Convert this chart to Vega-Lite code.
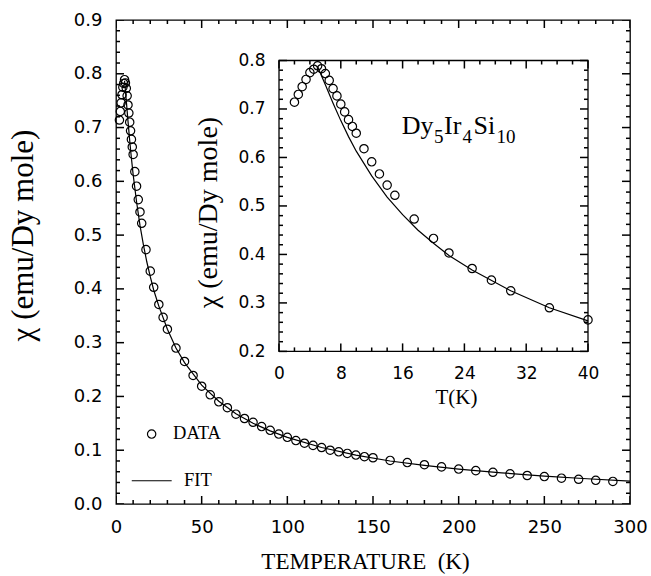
{
  "$schema": "https://vega.github.io/schema/vega-lite/v6.json",
  "width": 514,
  "height": 484,
  "autosize": "none",
  "padding": {"left": 116, "top": 20, "right": 21, "bottom": 72},
  "background": "white",
  "config": {
    "view": {"stroke": "black", "strokeWidth": 1.3},
    "axis": {"grid": false, "ticks": false, "tickSize": 0, "domain": false, "labelColor": "black", "titleColor": "black", "labelFlush": false, "labelOverlap": false, "titleFontWeight": "normal"}
  },
  "datasets": {
    "data": [
      {"T": 2, "chi": 0.714}, {"T": 2.5, "chi": 0.730}, {"T": 3, "chi": 0.746}, {"T": 3.5, "chi": 0.761},
      {"T": 4, "chi": 0.775}, {"T": 4.5, "chi": 0.782}, {"T": 5, "chi": 0.789}, {"T": 5.5, "chi": 0.783},
      {"T": 6, "chi": 0.773}, {"T": 6.5, "chi": 0.759}, {"T": 7, "chi": 0.742}, {"T": 7.5, "chi": 0.727},
      {"T": 8, "chi": 0.710}, {"T": 8.5, "chi": 0.694}, {"T": 9, "chi": 0.678}, {"T": 9.5, "chi": 0.664},
      {"T": 10, "chi": 0.650}, {"T": 11, "chi": 0.618}, {"T": 12, "chi": 0.591}, {"T": 13, "chi": 0.566},
      {"T": 14, "chi": 0.543}, {"T": 15, "chi": 0.522}, {"T": 17.5, "chi": 0.473}, {"T": 20, "chi": 0.433},
      {"T": 22, "chi": 0.403}, {"T": 25, "chi": 0.371}, {"T": 27.5, "chi": 0.347}, {"T": 30, "chi": 0.325},
      {"T": 35, "chi": 0.290}, {"T": 40, "chi": 0.265}, {"T": 45, "chi": 0.239}, {"T": 50, "chi": 0.219},
      {"T": 55, "chi": 0.203}, {"T": 60, "chi": 0.190}, {"T": 65, "chi": 0.179}, {"T": 70, "chi": 0.167},
      {"T": 75, "chi": 0.159}, {"T": 80, "chi": 0.152}, {"T": 85, "chi": 0.144}, {"T": 90, "chi": 0.137},
      {"T": 95, "chi": 0.130}, {"T": 100, "chi": 0.124}, {"T": 105, "chi": 0.118}, {"T": 110, "chi": 0.113},
      {"T": 115, "chi": 0.109}, {"T": 120, "chi": 0.105}, {"T": 125, "chi": 0.100}, {"T": 130, "chi": 0.097},
      {"T": 135, "chi": 0.094}, {"T": 140, "chi": 0.091}, {"T": 145, "chi": 0.088}, {"T": 150, "chi": 0.086},
      {"T": 160, "chi": 0.081}, {"T": 170, "chi": 0.077}, {"T": 180, "chi": 0.073}, {"T": 190, "chi": 0.069},
      {"T": 200, "chi": 0.065}, {"T": 210, "chi": 0.062}, {"T": 220, "chi": 0.059}, {"T": 230, "chi": 0.056},
      {"T": 240, "chi": 0.053}, {"T": 250, "chi": 0.051}, {"T": 260, "chi": 0.048}, {"T": 270, "chi": 0.046},
      {"T": 280, "chi": 0.044}, {"T": 290, "chi": 0.042}
    ],
    "fit": [
      {"T": 5, "chi": 0.787}, {"T": 6, "chi": 0.750}, {"T": 7, "chi": 0.712}, {"T": 8, "chi": 0.676},
      {"T": 9, "chi": 0.643}, {"T": 10, "chi": 0.613}, {"T": 12, "chi": 0.562}, {"T": 14, "chi": 0.518},
      {"T": 16, "chi": 0.482}, {"T": 18, "chi": 0.450}, {"T": 20, "chi": 0.423}, {"T": 22, "chi": 0.398},
      {"T": 25, "chi": 0.368}, {"T": 30, "chi": 0.325}, {"T": 35, "chi": 0.290}, {"T": 40, "chi": 0.263},
      {"T": 50, "chi": 0.221}, {"T": 60, "chi": 0.191}, {"T": 70, "chi": 0.168}, {"T": 80, "chi": 0.150},
      {"T": 90, "chi": 0.136}, {"T": 100, "chi": 0.124}, {"T": 120, "chi": 0.105}, {"T": 140, "chi": 0.091},
      {"T": 160, "chi": 0.080}, {"T": 180, "chi": 0.072}, {"T": 200, "chi": 0.065}, {"T": 225, "chi": 0.058},
      {"T": 250, "chi": 0.052}, {"T": 275, "chi": 0.047}, {"T": 300, "chi": 0.0425}
    ],
    "mainXTicks": [
      {"v": 0, "kind": "major"}, {"v": 10, "kind": "minor"}, {"v": 20, "kind": "minor"}, {"v": 30, "kind": "minor"}, {"v": 40, "kind": "minor"},
      {"v": 50, "kind": "major"}, {"v": 60, "kind": "minor"}, {"v": 70, "kind": "minor"}, {"v": 80, "kind": "minor"}, {"v": 90, "kind": "minor"},
      {"v": 100, "kind": "major"}, {"v": 110, "kind": "minor"}, {"v": 120, "kind": "minor"}, {"v": 130, "kind": "minor"}, {"v": 140, "kind": "minor"},
      {"v": 150, "kind": "major"}, {"v": 160, "kind": "minor"}, {"v": 170, "kind": "minor"}, {"v": 180, "kind": "minor"}, {"v": 190, "kind": "minor"},
      {"v": 200, "kind": "major"}, {"v": 210, "kind": "minor"}, {"v": 220, "kind": "minor"}, {"v": 230, "kind": "minor"}, {"v": 240, "kind": "minor"},
      {"v": 250, "kind": "major"}, {"v": 260, "kind": "minor"}, {"v": 270, "kind": "minor"}, {"v": 280, "kind": "minor"}, {"v": 290, "kind": "minor"},
      {"v": 300, "kind": "major"}
    ],
    "mainYTicks": [
      {"v": 0, "kind": "major"}, {"v": 0.02, "kind": "minor"}, {"v": 0.04, "kind": "minor"}, {"v": 0.06, "kind": "minor"}, {"v": 0.08, "kind": "minor"},
      {"v": 0.1, "kind": "major"}, {"v": 0.12, "kind": "minor"}, {"v": 0.14, "kind": "minor"}, {"v": 0.16, "kind": "minor"}, {"v": 0.18, "kind": "minor"},
      {"v": 0.2, "kind": "major"}, {"v": 0.22, "kind": "minor"}, {"v": 0.24, "kind": "minor"}, {"v": 0.26, "kind": "minor"}, {"v": 0.28, "kind": "minor"},
      {"v": 0.3, "kind": "major"}, {"v": 0.32, "kind": "minor"}, {"v": 0.34, "kind": "minor"}, {"v": 0.36, "kind": "minor"}, {"v": 0.38, "kind": "minor"},
      {"v": 0.4, "kind": "major"}, {"v": 0.42, "kind": "minor"}, {"v": 0.44, "kind": "minor"}, {"v": 0.46, "kind": "minor"}, {"v": 0.48, "kind": "minor"},
      {"v": 0.5, "kind": "major"}, {"v": 0.52, "kind": "minor"}, {"v": 0.54, "kind": "minor"}, {"v": 0.56, "kind": "minor"}, {"v": 0.58, "kind": "minor"},
      {"v": 0.6, "kind": "major"}, {"v": 0.62, "kind": "minor"}, {"v": 0.64, "kind": "minor"}, {"v": 0.66, "kind": "minor"}, {"v": 0.68, "kind": "minor"},
      {"v": 0.7, "kind": "major"}, {"v": 0.72, "kind": "minor"}, {"v": 0.74, "kind": "minor"}, {"v": 0.76, "kind": "minor"}, {"v": 0.78, "kind": "minor"},
      {"v": 0.8, "kind": "major"}, {"v": 0.82, "kind": "minor"}, {"v": 0.84, "kind": "minor"}, {"v": 0.86, "kind": "minor"}, {"v": 0.88, "kind": "minor"},
      {"v": 0.9, "kind": "major"}
    ],
    "insetXTicks": [
      {"v": 0, "kind": "major"}, {"v": 2, "kind": "minor"}, {"v": 4, "kind": "minor"}, {"v": 6, "kind": "minor"},
      {"v": 8, "kind": "major"}, {"v": 10, "kind": "minor"}, {"v": 12, "kind": "minor"}, {"v": 14, "kind": "minor"},
      {"v": 16, "kind": "major"}, {"v": 18, "kind": "minor"}, {"v": 20, "kind": "minor"}, {"v": 22, "kind": "minor"},
      {"v": 24, "kind": "major"}, {"v": 26, "kind": "minor"}, {"v": 28, "kind": "minor"}, {"v": 30, "kind": "minor"},
      {"v": 32, "kind": "major"}, {"v": 34, "kind": "minor"}, {"v": 36, "kind": "minor"}, {"v": 38, "kind": "minor"},
      {"v": 40, "kind": "major"}
    ],
    "insetYTicks": [
      {"v": 0.2, "kind": "major"}, {"v": 0.22, "kind": "minor"}, {"v": 0.24, "kind": "minor"}, {"v": 0.26, "kind": "minor"}, {"v": 0.28, "kind": "minor"},
      {"v": 0.3, "kind": "major"}, {"v": 0.32, "kind": "minor"}, {"v": 0.34, "kind": "minor"}, {"v": 0.36, "kind": "minor"}, {"v": 0.38, "kind": "minor"},
      {"v": 0.4, "kind": "major"}, {"v": 0.42, "kind": "minor"}, {"v": 0.44, "kind": "minor"}, {"v": 0.46, "kind": "minor"}, {"v": 0.48, "kind": "minor"},
      {"v": 0.5, "kind": "major"}, {"v": 0.52, "kind": "minor"}, {"v": 0.54, "kind": "minor"}, {"v": 0.56, "kind": "minor"}, {"v": 0.58, "kind": "minor"},
      {"v": 0.6, "kind": "major"}, {"v": 0.62, "kind": "minor"}, {"v": 0.64, "kind": "minor"}, {"v": 0.66, "kind": "minor"}, {"v": 0.68, "kind": "minor"},
      {"v": 0.7, "kind": "major"}, {"v": 0.72, "kind": "minor"}, {"v": 0.74, "kind": "minor"}, {"v": 0.76, "kind": "minor"}, {"v": 0.78, "kind": "minor"},
      {"v": 0.8, "kind": "major"}
    ],
    "legend": [{"label": "DATA"}, {"label": "FIT"}],
    "compound": [{"name": "Dy5Ir4Si10"}]
  },
  "resolve": {"scale": {"x": "independent", "y": "independent"}, "axis": {"x": "independent", "y": "independent"}},
  "layer": [
    {
      "data": {"name": "data"},
      "mark": {"type": "point", "filled": false, "stroke": "black", "strokeWidth": 1.2, "size": 70, "opacity": 1},
      "encoding": {
        "x": {"field": "T", "type": "quantitative", "scale": {"domain": [0, 300], "nice": false, "zero": false},
          "axis": {"orient": "bottom", "values": [0, 50, 100, 150, 200, 250, 300],
            "labelPadding": 14, "labelFont": "DejaVu Sans", "labelFontSize": 18,
            "title": "TEMPERATURE\u00a0\u00a0(K)", "titleFont": "Liberation Serif", "titleFontSize": 23,
            "titleX": 249, "titleY": 64, "titleBaseline": "alphabetic", "titleAlign": "center"}},
        "y": {"field": "chi", "type": "quantitative", "scale": {"domain": [0, 0.9], "nice": false, "zero": false},
          "axis": {"orient": "left", "values": [0, 0.1, 0.2, 0.3, 0.4, 0.5, 0.6, 0.7, 0.8, 0.9], "format": ".1f",
            "labelPadding": 14, "labelFont": "DejaVu Sans", "labelFontSize": 18,
            "title": "χ (emu/Dy mole)", "titleFont": "Liberation Serif", "titleFontSize": 31,
            "titleX": -84, "titleY": 215, "titleAngle": -90, "titleBaseline": "alphabetic", "titleAlign": "center"}}
      }
    },
    {
      "data": {"name": "fit"},
      "mark": {"type": "line", "color": "black", "strokeWidth": 1.2},
      "encoding": {
        "x": {"field": "T", "type": "quantitative", "scale": {"domain": [0, 300], "nice": false, "zero": false}, "axis": null},
        "y": {"field": "chi", "type": "quantitative", "scale": {"domain": [0, 0.9], "nice": false, "zero": false}, "axis": null}
      }
    },
    {
      "data": {"name": "mainXTicks"},
      "mark": {"type": "tick", "orient": "vertical", "thickness": 1.5, "color": "black", "opacity": 1, "clip": true},
      "encoding": {
        "x": {"field": "v", "type": "quantitative", "scale": {"domain": [0, 300], "nice": false, "zero": false}, "axis": null},
        "y": {"datum": 0, "type": "quantitative", "scale": {"domain": [0, 0.9], "nice": false, "zero": false}, "axis": null},
        "size": {"field": "kind", "type": "ordinal", "scale": {"domain": ["major", "minor"], "range": [16, 8]}, "legend": null}
      }
    },
    {
      "data": {"name": "mainXTicks"},
      "mark": {"type": "tick", "orient": "vertical", "thickness": 1.5, "color": "black", "opacity": 1, "clip": true},
      "encoding": {
        "x": {"field": "v", "type": "quantitative", "scale": {"domain": [0, 300], "nice": false, "zero": false}, "axis": null},
        "y": {"datum": 0.9, "type": "quantitative", "scale": {"domain": [0, 0.9], "nice": false, "zero": false}, "axis": null},
        "size": {"field": "kind", "type": "ordinal", "scale": {"domain": ["major", "minor"], "range": [16, 8]}, "legend": null}
      }
    },
    {
      "data": {"name": "mainYTicks"},
      "mark": {"type": "tick", "orient": "horizontal", "thickness": 1.5, "color": "black", "opacity": 1, "clip": true},
      "encoding": {
        "y": {"field": "v", "type": "quantitative", "scale": {"domain": [0, 0.9], "nice": false, "zero": false}, "axis": null},
        "x": {"datum": 0, "type": "quantitative", "scale": {"domain": [0, 300], "nice": false, "zero": false}, "axis": null},
        "size": {"field": "kind", "type": "ordinal", "scale": {"domain": ["major", "minor"], "range": [16, 8]}, "legend": null}
      }
    },
    {
      "data": {"name": "mainYTicks"},
      "mark": {"type": "tick", "orient": "horizontal", "thickness": 1.5, "color": "black", "opacity": 1, "clip": true},
      "encoding": {
        "y": {"field": "v", "type": "quantitative", "scale": {"domain": [0, 0.9], "nice": false, "zero": false}, "axis": null},
        "x": {"datum": 300, "type": "quantitative", "scale": {"domain": [0, 300], "nice": false, "zero": false}, "axis": null},
        "size": {"field": "kind", "type": "ordinal", "scale": {"domain": ["major", "minor"], "range": [16, 8]}, "legend": null}
      }
    },
    {
      "data": {"name": "legend"},
      "transform": [{"filter": "datum.label === 'DATA'"}],
      "mark": {"type": "point", "filled": false, "stroke": "black", "strokeWidth": 1.2, "size": 70, "opacity": 1},
      "encoding": {
        "x": {"datum": 20.8, "type": "quantitative", "scale": {"domain": [0, 300], "nice": false, "zero": false}, "axis": null},
        "y": {"datum": 0.130, "type": "quantitative", "scale": {"domain": [0, 0.9], "nice": false, "zero": false}, "axis": null}
      }
    },
    {
      "data": {"name": "legend"},
      "transform": [{"filter": "datum.label === 'FIT'"}],
      "mark": {"type": "rule", "color": "black", "strokeWidth": 1.2},
      "encoding": {
        "x": {"datum": 9.2, "type": "quantitative", "scale": {"domain": [0, 300], "nice": false, "zero": false}, "axis": null},
        "x2": {"datum": 32.5},
        "y": {"datum": 0.0432, "type": "quantitative", "scale": {"domain": [0, 0.9], "nice": false, "zero": false}, "axis": null}
      }
    },
    {
      "data": {"name": "legend"},
      "transform": [{"filter": "datum.label === 'DATA'"}],
      "mark": {"type": "text", "font": "Liberation Serif", "fontSize": 18.5, "align": "left", "baseline": "alphabetic", "color": "black"},
      "encoding": {
        "text": {"field": "label"},
        "x": {"datum": 33.3, "type": "quantitative", "scale": {"domain": [0, 300], "nice": false, "zero": false}, "axis": null},
        "y": {"datum": 0.120, "type": "quantitative", "scale": {"domain": [0, 0.9], "nice": false, "zero": false}, "axis": null}
      }
    },
    {
      "data": {"name": "legend"},
      "transform": [{"filter": "datum.label === 'FIT'"}],
      "mark": {"type": "text", "font": "Liberation Serif", "fontSize": 18.5, "align": "left", "baseline": "alphabetic", "color": "black"},
      "encoding": {
        "text": {"field": "label"},
        "x": {"datum": 39.7, "type": "quantitative", "scale": {"domain": [0, 300], "nice": false, "zero": false}, "axis": null},
        "y": {"datum": 0.033, "type": "quantitative", "scale": {"domain": [0, 0.9], "nice": false, "zero": false}, "axis": null}
      }
    },
    {
      "data": {"name": "compound"},
      "mark": {"type": "rect", "fill": "white", "stroke": "black", "strokeWidth": 1.3},
      "encoding": {
        "x": {"datum": 0, "type": "quantitative", "scale": {"domain": [0, 40], "range": [163, 472], "nice": false, "zero": false}, "axis": null},
        "x2": {"datum": 40},
        "y": {"datum": 0.2, "type": "quantitative", "scale": {"domain": [0.2, 0.8], "range": [331.4, 40.5], "nice": false, "zero": false}, "axis": null},
        "y2": {"datum": 0.8}
      }
    },
    {
      "data": {"name": "insetXTicks"},
      "transform": [{"filter": "datum.kind === 'major'"}],
      "mark": {"type": "tick", "orient": "vertical", "thickness": 1.5, "size": 8, "yOffset": -4, "color": "black", "opacity": 1},
      "encoding": {
        "x": {"field": "v", "type": "quantitative", "scale": {"domain": [0, 40], "range": [163, 472], "nice": false, "zero": false}, "axis": null},
        "y": {"datum": 0.2, "type": "quantitative", "scale": {"domain": [0.2, 0.8], "range": [331.4, 40.5], "nice": false, "zero": false}, "axis": null}
      }
    },
    {
      "data": {"name": "insetXTicks"},
      "transform": [{"filter": "datum.kind === 'minor'"}],
      "mark": {"type": "tick", "orient": "vertical", "thickness": 1.5, "size": 4, "yOffset": -2, "color": "black", "opacity": 1},
      "encoding": {
        "x": {"field": "v", "type": "quantitative", "scale": {"domain": [0, 40], "range": [163, 472], "nice": false, "zero": false}, "axis": null},
        "y": {"datum": 0.2, "type": "quantitative", "scale": {"domain": [0.2, 0.8], "range": [331.4, 40.5], "nice": false, "zero": false}, "axis": null}
      }
    },
    {
      "data": {"name": "insetXTicks"},
      "transform": [{"filter": "datum.kind === 'major'"}],
      "mark": {"type": "tick", "orient": "vertical", "thickness": 1.5, "size": 8, "yOffset": 4, "color": "black", "opacity": 1},
      "encoding": {
        "x": {"field": "v", "type": "quantitative", "scale": {"domain": [0, 40], "range": [163, 472], "nice": false, "zero": false}, "axis": null},
        "y": {"datum": 0.8, "type": "quantitative", "scale": {"domain": [0.2, 0.8], "range": [331.4, 40.5], "nice": false, "zero": false}, "axis": null}
      }
    },
    {
      "data": {"name": "insetXTicks"},
      "transform": [{"filter": "datum.kind === 'minor'"}],
      "mark": {"type": "tick", "orient": "vertical", "thickness": 1.5, "size": 4, "yOffset": 2, "color": "black", "opacity": 1},
      "encoding": {
        "x": {"field": "v", "type": "quantitative", "scale": {"domain": [0, 40], "range": [163, 472], "nice": false, "zero": false}, "axis": null},
        "y": {"datum": 0.8, "type": "quantitative", "scale": {"domain": [0.2, 0.8], "range": [331.4, 40.5], "nice": false, "zero": false}, "axis": null}
      }
    },
    {
      "data": {"name": "insetYTicks"},
      "transform": [{"filter": "datum.kind === 'major'"}],
      "mark": {"type": "tick", "orient": "horizontal", "thickness": 1.5, "size": 8, "xOffset": 4, "color": "black", "opacity": 1},
      "encoding": {
        "y": {"field": "v", "type": "quantitative", "scale": {"domain": [0.2, 0.8], "range": [331.4, 40.5], "nice": false, "zero": false}, "axis": null},
        "x": {"datum": 0, "type": "quantitative", "scale": {"domain": [0, 40], "range": [163, 472], "nice": false, "zero": false}, "axis": null}
      }
    },
    {
      "data": {"name": "insetYTicks"},
      "transform": [{"filter": "datum.kind === 'minor'"}],
      "mark": {"type": "tick", "orient": "horizontal", "thickness": 1.5, "size": 4, "xOffset": 2, "color": "black", "opacity": 1},
      "encoding": {
        "y": {"field": "v", "type": "quantitative", "scale": {"domain": [0.2, 0.8], "range": [331.4, 40.5], "nice": false, "zero": false}, "axis": null},
        "x": {"datum": 0, "type": "quantitative", "scale": {"domain": [0, 40], "range": [163, 472], "nice": false, "zero": false}, "axis": null}
      }
    },
    {
      "data": {"name": "insetYTicks"},
      "transform": [{"filter": "datum.kind === 'major'"}],
      "mark": {"type": "tick", "orient": "horizontal", "thickness": 1.5, "size": 8, "xOffset": -4, "color": "black", "opacity": 1},
      "encoding": {
        "y": {"field": "v", "type": "quantitative", "scale": {"domain": [0.2, 0.8], "range": [331.4, 40.5], "nice": false, "zero": false}, "axis": null},
        "x": {"datum": 40, "type": "quantitative", "scale": {"domain": [0, 40], "range": [163, 472], "nice": false, "zero": false}, "axis": null}
      }
    },
    {
      "data": {"name": "insetYTicks"},
      "transform": [{"filter": "datum.kind === 'minor'"}],
      "mark": {"type": "tick", "orient": "horizontal", "thickness": 1.5, "size": 4, "xOffset": -2, "color": "black", "opacity": 1},
      "encoding": {
        "y": {"field": "v", "type": "quantitative", "scale": {"domain": [0.2, 0.8], "range": [331.4, 40.5], "nice": false, "zero": false}, "axis": null},
        "x": {"datum": 40, "type": "quantitative", "scale": {"domain": [0, 40], "range": [163, 472], "nice": false, "zero": false}, "axis": null}
      }
    },
    {
      "data": {"name": "data"},
      "transform": [{"filter": "datum.T <= 40"}],
      "mark": {"type": "point", "filled": false, "stroke": "black", "strokeWidth": 1.2, "size": 70, "opacity": 1},
      "encoding": {
        "x": {"field": "T", "type": "quantitative", "scale": {"domain": [0, 40], "range": [163, 472], "nice": false, "zero": false},
          "axis": {"orient": "bottom", "offset": -153, "values": [0, 8, 16, 24, 32, 40],
            "labelPadding": 14, "labelFont": "DejaVu Sans", "labelFontSize": 17,
            "title": "T(K)", "titleFont": "Liberation Serif", "titleFontSize": 21,
            "titleX": 340, "titleY": 52, "titleBaseline": "alphabetic", "titleAlign": "center"}},
        "y": {"field": "chi", "type": "quantitative", "scale": {"domain": [0.2, 0.8], "range": [331.4, 40.5], "nice": false, "zero": false},
          "axis": {"orient": "left", "offset": -163, "values": [0.2, 0.3, 0.4, 0.5, 0.6, 0.7, 0.8], "format": ".1f",
            "labelPadding": 14, "labelFont": "DejaVu Sans", "labelFontSize": 17,
            "title": "χ (emu/Dy mole)", "titleFont": "Liberation Serif", "titleFontSize": 28,
            "titleX": -63, "titleY": 192, "titleAngle": -90, "titleBaseline": "alphabetic", "titleAlign": "center"}}
      }
    },
    {
      "data": {"name": "fit"},
      "transform": [{"filter": "datum.T <= 40"}],
      "mark": {"type": "line", "color": "black", "strokeWidth": 1.2},
      "encoding": {
        "x": {"field": "T", "type": "quantitative", "scale": {"domain": [0, 40], "range": [163, 472], "nice": false, "zero": false}, "axis": null},
        "y": {"field": "chi", "type": "quantitative", "scale": {"domain": [0.2, 0.8], "range": [331.4, 40.5], "nice": false, "zero": false}, "axis": null}
      }
    },
    {
      "data": {"name": "compound"},
      "mark": {"type": "text", "text": "Dy", "font": "Liberation Serif", "fontSize": 26, "align": "left", "baseline": "alphabetic", "color": "black"},
      "encoding": {
        "x": {"datum": 15.88, "type": "quantitative", "scale": {"domain": [0, 40], "range": [163, 472], "nice": false, "zero": false}, "axis": null},
        "y": {"datum": 0.6485, "type": "quantitative", "scale": {"domain": [0.2, 0.8], "range": [331.4, 40.5], "nice": false, "zero": false}, "axis": null}
      }
    },
    {
      "data": {"name": "compound"},
      "mark": {"type": "text", "text": "5", "font": "Liberation Serif", "fontSize": 19, "align": "left", "baseline": "alphabetic", "color": "black"},
      "encoding": {
        "x": {"datum": 20.06, "type": "quantitative", "scale": {"domain": [0, 40], "range": [163, 472], "nice": false, "zero": false}, "axis": null},
        "y": {"datum": 0.6293, "type": "quantitative", "scale": {"domain": [0.2, 0.8], "range": [331.4, 40.5], "nice": false, "zero": false}, "axis": null}
      }
    },
    {
      "data": {"name": "compound"},
      "mark": {"type": "text", "text": "Ir", "font": "Liberation Serif", "fontSize": 26, "align": "left", "baseline": "alphabetic", "color": "black"},
      "encoding": {
        "x": {"datum": 21.36, "type": "quantitative", "scale": {"domain": [0, 40], "range": [163, 472], "nice": false, "zero": false}, "axis": null},
        "y": {"datum": 0.6485, "type": "quantitative", "scale": {"domain": [0.2, 0.8], "range": [331.4, 40.5], "nice": false, "zero": false}, "axis": null}
      }
    },
    {
      "data": {"name": "compound"},
      "mark": {"type": "text", "text": "4", "font": "Liberation Serif", "fontSize": 19, "align": "left", "baseline": "alphabetic", "color": "black"},
      "encoding": {
        "x": {"datum": 23.75, "type": "quantitative", "scale": {"domain": [0, 40], "range": [163, 472], "nice": false, "zero": false}, "axis": null},
        "y": {"datum": 0.6293, "type": "quantitative", "scale": {"domain": [0.2, 0.8], "range": [331.4, 40.5], "nice": false, "zero": false}, "axis": null}
      }
    },
    {
      "data": {"name": "compound"},
      "mark": {"type": "text", "text": "Si", "font": "Liberation Serif", "fontSize": 26, "align": "left", "baseline": "alphabetic", "color": "black"},
      "encoding": {
        "x": {"datum": 25.18, "type": "quantitative", "scale": {"domain": [0, 40], "range": [163, 472], "nice": false, "zero": false}, "axis": null},
        "y": {"datum": 0.6485, "type": "quantitative", "scale": {"domain": [0.2, 0.8], "range": [331.4, 40.5], "nice": false, "zero": false}, "axis": null}
      }
    },
    {
      "data": {"name": "compound"},
      "mark": {"type": "text", "text": "10", "font": "Liberation Serif", "fontSize": 19, "align": "left", "baseline": "alphabetic", "color": "black"},
      "encoding": {
        "x": {"datum": 28.16, "type": "quantitative", "scale": {"domain": [0, 40], "range": [163, 472], "nice": false, "zero": false}, "axis": null},
        "y": {"datum": 0.6293, "type": "quantitative", "scale": {"domain": [0.2, 0.8], "range": [331.4, 40.5], "nice": false, "zero": false}, "axis": null}
      }
    }
  ]
}
